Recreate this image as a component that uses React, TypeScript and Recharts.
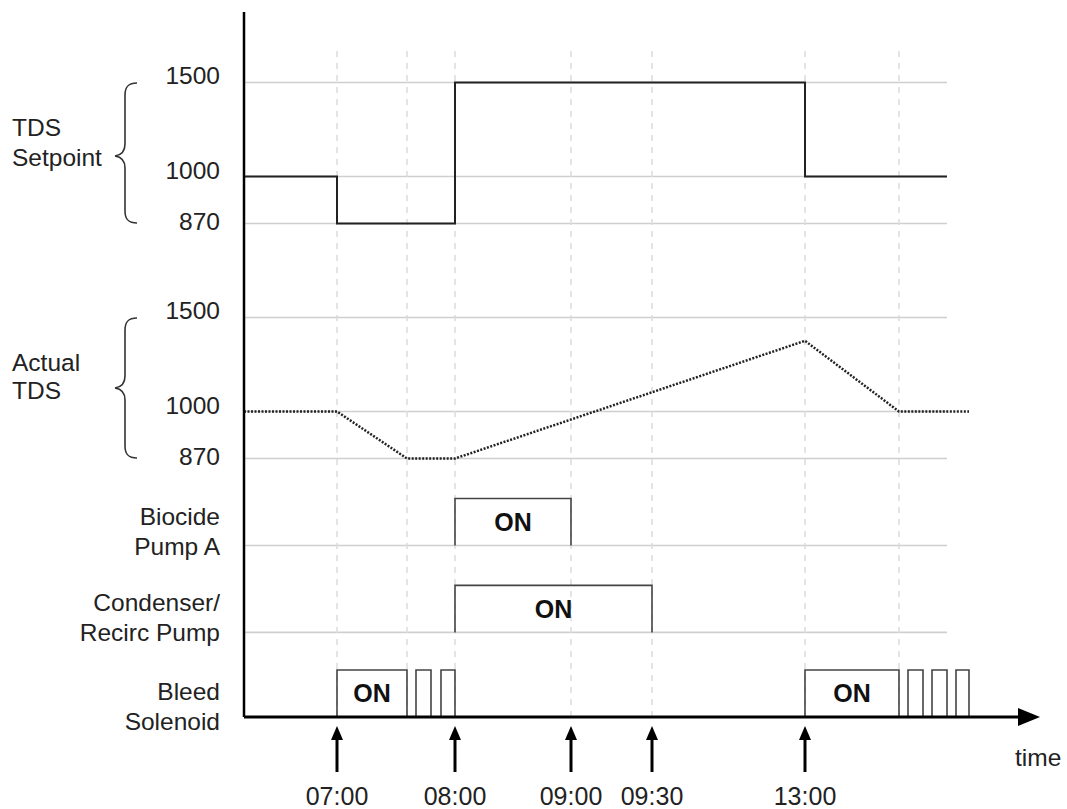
import React from 'react';
import { ComposedChart, Line, XAxis, YAxis, ReferenceLine, ReferenceArea } from 'recharts';

const FONT = '"Liberation Sans", Arial, Helvetica, sans-serif';

// ---- schematic time axis (positions along the time line) ----
const timeTickPos = [93, 211, 327, 408, 561];
const timeTickLabels = ['07:00', '08:00', '09:00', '09:30', '13:00'];
const eventTimes = [93, 163, 211, 327, 408, 561, 655];
const timeEnd = 778;
const gridEnd = 703;

// ---- TDS setpoint ----
const setpointT = [0, 93, 211, 561, 703];
const setpointV = [1000, 870, 1500, 1000, 1000];

// ---- Actual TDS ----
const actualT = [0, 93, 163, 211, 561, 655, 725];
const actualV = [1000, 1000, 870, 870, 1376, 1000, 1000];

// ---- on/off outputs: [start, end] ----
const biocideOn = [[211, 327]];
const condenserOn = [[211, 408]];
const bleedOn = [[93, 163], [172, 187], [197, 211], [561, 655], [664, 679], [688, 703], [712, 725]];
const bleedLabelled = [0, 3];

// ---- TDS tick labels with schematic spacing ----
const tdsTicks = [870, 1000, 1500];
const tdsSpots = [0, 1, 3];

// band bases (in schematic vertical units)
const BASE_SET = 10.5;
const BASE_ACT = 5.5;
const BASE_BIO = 3.65;
const BASE_CON = 1.8;
const BASE_BLEED = 0;

function tdsToUnit(v: number) {
  for (let i = 0; i < tdsTicks.length - 1; i++) {
    if (v <= tdsTicks[i + 1] || i === tdsTicks.length - 2) {
      const f = (v - tdsTicks[i]) / (tdsTicks[i + 1] - tdsTicks[i]);
      return tdsSpots[i] + f * (tdsSpots[i + 1] - tdsSpots[i]);
    }
  }
  return 0;
}

const setpointData = setpointT.map((t, i) => ({ t, y: BASE_SET + tdsToUnit(setpointV[i]) }));
const actualData = actualT.map((t, i) => ({ t, y: BASE_ACT + tdsToUnit(actualV[i]) }));

function pulses(list: number[][], base: number) {
  const out: { t: number; y: number | null }[] = [];
  list.forEach(([a, b]) => {
    out.push({ t: a, y: base }, { t: a, y: base + 1 }, { t: b, y: base + 1 }, { t: b, y: base }, { t: b, y: null });
  });
  return out;
}

const bioData = pulses(biocideOn, BASE_BIO);
const conData = pulses(condenserOn, BASE_CON);
const bleedData = pulses(bleedOn, BASE_BLEED);

const gridLevels = [
  ...tdsTicks.map((v) => BASE_SET + tdsToUnit(v)),
  ...tdsTicks.map((v) => BASE_ACT + tdsToUnit(v)),
  BASE_BIO,
  BASE_CON,
];

type YT = { v: number; lines: string[]; dy: number };
const tdsLabelDy = [-2, -6, -7];
const yTickDefs: YT[] = [
  ...tdsTicks.map((v, i) => ({ v: BASE_SET + tdsToUnit(v), lines: [String(v)], dy: tdsLabelDy[i] })),
  ...tdsTicks.map((v, i) => ({ v: BASE_ACT + tdsToUnit(v), lines: [String(v)], dy: tdsLabelDy[i] })),
  { v: BASE_BIO + 0.29, lines: ['Biocide', 'Pump A'], dy: 0 },
  { v: BASE_CON + 0.31, lines: ['Condenser/', 'Recirc Pump'], dy: 0 },
  { v: BASE_BLEED + 0.23, lines: ['Bleed', 'Solenoid'], dy: 0 },
];

const YTick = (props: any) => {
  const { x, y, payload } = props;
  const def = yTickDefs.find((d) => Math.abs(d.v - payload.value) < 1e-6);
  if (!def) return null;
  const n = def.lines.length;
  return (
    <g>
      {def.lines.map((l, i) => (
        <text
          key={i}
          x={x}
          y={y + def.dy + (i - (n - 1) / 2) * 30}
          textAnchor="end"
          dominantBaseline="central"
          fontFamily={FONT}
          fontSize={24.5}
          fill="#222"
        >
          {l}
        </text>
      ))}
    </g>
  );
};

const XTick = (props: any) => {
  const { x, y, payload } = props;
  const idx = timeTickPos.indexOf(payload.value);
  const label = idx >= 0 ? timeTickLabels[idx] : '';
  return (
    <g>
      <line x1={x} x2={x} y1={y + 20} y2={y + 55} stroke="#000" strokeWidth={3} />
      <polygon points={`${x - 6},${y + 23} ${x},${y + 9} ${x + 6},${y + 23}`} fill="#000" />
      <text x={x} y={y + 88} textAnchor="middle" fontFamily={FONT} fontSize={25} fill="#222">
        {label}
      </text>
    </g>
  );
};

const Brace = ({ top, tip, bottom }: { top: number; tip: number; bottom: number }) => (
  <path
    d={`M137,${top} C128,${top} 125,${top + 4} 125,${top + 12} L125,${tip - 12} C125,${tip - 5} 122,${tip - 1} 115,${tip} C122,${tip + 1} 125,${tip + 5} 125,${tip + 12} L125,${bottom - 12} C125,${bottom - 4} 128,${bottom} 137,${bottom}`}
    fill="none"
    stroke="#333"
    strokeWidth={1.6}
  />
);

const onLabel = { value: 'ON', position: 'center' as const, fill: '#111', fontSize: 25, fontWeight: 'bold', fontFamily: FONT };

export default function App() {
  return (
    <div style={{ position: 'absolute', left: 0, top: 0, width: 1067, height: 809, background: '#fff' }}>
      <ComposedChart width={1067} height={809} margin={{ top: 12, right: 45, bottom: 62, left: 14 }}>
        <XAxis
          type="number"
          dataKey="t"
          domain={[0, timeEnd]}
          ticks={timeTickPos}
          interval={0}
          allowDataOverflow
          axisLine={{ stroke: '#000', strokeWidth: 3 }}
          tickLine={false}
          tickSize={0}
          tickMargin={0}
          height={30}
          tick={<XTick />}
        />
        <YAxis
          type="number"
          dataKey="y"
          domain={[0, 15]}
          ticks={yTickDefs.map((d) => d.v)}
          interval={0}
          allowDataOverflow
          width={230}
          axisLine={{ stroke: '#000', strokeWidth: 2.5 }}
          tickLine={false}
          tickSize={0}
          tickMargin={24}
          tick={<YTick />}
        />
        {gridLevels.map((v, i) => (
          <ReferenceLine
            key={'g' + i}
            segment={[{ x: 0, y: v }, { x: gridEnd, y: v }]}
            stroke="#cfcfcf"
            strokeWidth={1.6}
          />
        ))}
        {eventTimes.map((t, i) => (
          <ReferenceLine
            key={'e' + i}
            segment={[{ x: t, y: 0 }, { x: t, y: 14.2 }]}
            stroke="#dcdcdc"
            strokeWidth={1.5}
            strokeDasharray="6 6"
          />
        ))}
        <Line
          data={setpointData}
          dataKey="y"
          type="stepAfter"
          stroke="#222"
          strokeWidth={2}
          dot={false}
          activeDot={false}
          isAnimationActive={false}
        />
        <Line
          data={actualData}
          dataKey="y"
          type="linear"
          stroke="#222"
          strokeWidth={2.5}
          strokeDasharray="2 1.5"
          dot={false}
          activeDot={false}
          isAnimationActive={false}
        />
        <Line data={bioData} dataKey="y" type="linear" stroke="#444" strokeWidth={1.6} dot={false} activeDot={false} connectNulls={false} isAnimationActive={false} />
        <Line data={conData} dataKey="y" type="linear" stroke="#444" strokeWidth={1.6} dot={false} activeDot={false} connectNulls={false} isAnimationActive={false} />
        <Line data={bleedData} dataKey="y" type="linear" stroke="#444" strokeWidth={1.6} dot={false} activeDot={false} connectNulls={false} isAnimationActive={false} />
        {biocideOn.map(([a, b], i) => (
          <ReferenceArea key={'bo' + i} x1={a} x2={b} y1={BASE_BIO} y2={BASE_BIO + 1} fill="none" fillOpacity={0} stroke="none" label={onLabel} />
        ))}
        {condenserOn.map(([a, b], i) => (
          <ReferenceArea key={'co' + i} x1={a} x2={b} y1={BASE_CON} y2={BASE_CON + 1} fill="none" fillOpacity={0} stroke="none" label={onLabel} />
        ))}
        {bleedLabelled.map((k) => (
          <ReferenceArea key={'bl' + k} x1={bleedOn[k][0]} x2={bleedOn[k][1]} y1={BASE_BLEED} y2={BASE_BLEED + 1} fill="none" fillOpacity={0} stroke="none" label={onLabel} />
        ))}
      </ComposedChart>
      <svg width={1067} height={809} style={{ position: 'absolute', left: 0, top: 0, pointerEvents: 'none' }}>
        <Brace top={83} tip={156} bottom={223} />
        <Brace top={318} tip={388} bottom={458} />
        <g fontFamily={FONT} fontSize={24.5} fill="#222">
          <text x={12} y={127} dominantBaseline="central">TDS</text>
          <text x={12} y={157} dominantBaseline="central">Setpoint</text>
          <text x={12} y={362} dominantBaseline="central">Actual</text>
          <text x={12} y={390} dominantBaseline="central">TDS</text>
          <text x={1015} y={766}>time</text>
        </g>
        <polygon points="1018,708 1040,717 1018,726" fill="#000" />
      </svg>
    </div>
  );
}
